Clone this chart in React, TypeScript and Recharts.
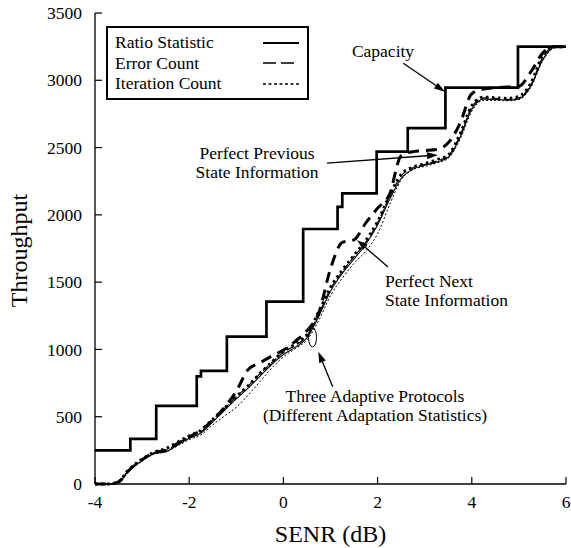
import React from "react"
import { LineChart, Line, XAxis, YAxis, Legend, ReferenceDot, ReferenceLine } from "recharts"

const FONT = "Liberation Serif, DejaVu Serif, Times, serif"
const TICK_FONT = 17.5

const xTicks = [-4, -2, 0, 2, 4, 6]
const yTicks = [0, 500, 1000, 1500, 2000, 2500, 3000, 3500]

// capacity staircase (level starts at each SENR value)
const capacitySnr = [-4, -3.25, -2.7, -1.84, -1.75, -1.2, -0.36, 0.42, 1.15, 1.25, 1.98, 2.64, 3.44, 4.98, 6]
const capacityThroughput = [250, 335, 580, 800, 840, 1095, 1355, 1895, 2060, 2160, 2470, 2645, 2945, 3250, 3250]

// shared SENR grid for the protocol curves
const snrGrid = [-4, -3.7, -3.5, -3.3, -3, -2.75, -2.5, -2.25, -2, -1.75, -1.5, -1.25, -1, -0.75, -0.5, -0.25, 0, 0.25, 0.5, 0.75, 1, 1.25, 1.5, 1.75, 2, 2.25, 2.5, 2.75, 3, 3.25, 3.5, 3.75, 4, 4.25, 4.5, 4.75, 5, 5.25, 5.5, 5.75, 6]
const ratioStatistic = [0, 0, 12, 90, 175, 225, 240, 290, 340, 378, 462, 548, 632, 712, 800, 888, 962, 1015, 1085, 1245, 1432, 1565, 1672, 1782, 1925, 2110, 2270, 2340, 2368, 2392, 2428, 2575, 2785, 2860, 2858, 2852, 2862, 2955, 3150, 3245, 3250]
const errorCount = [0, 0, 18, 98, 182, 232, 250, 300, 352, 388, 478, 562, 648, 728, 818, 902, 978, 1030, 1100, 1262, 1450, 1578, 1690, 1798, 1940, 2130, 2290, 2350, 2375, 2400, 2440, 2590, 2800, 2870, 2865, 2858, 2870, 2965, 3165, 3250, 3250]
const iterationCount = [0, 0, 10, 88, 170, 222, 238, 282, 330, 365, 440, 505, 570, 660, 760, 860, 945, 1005, 1070, 1215, 1400, 1530, 1640, 1730, 1860, 2070, 2260, 2335, 2360, 2385, 2420, 2560, 2770, 2850, 2850, 2848, 2858, 2945, 3140, 3240, 3250]
const perfectNext = [0, 0, 15, 95, 180, 232, 250, 300, 350, 400, 475, 570, 690, 850, 900, 950, 995, 1060, 1140, 1270, 1600, 1795, 1815, 1940, 2050, 2150, 2440, 2470, 2478, 2485, 2535, 2680, 2900, 2935, 2945, 2950, 2955, 3060, 3200, 3250, 3250]
const perfectPrevious = [0, 0, 18, 100, 185, 235, 262, 310, 358, 400, 480, 565, 650, 730, 820, 905, 985, 1040, 1110, 1280, 1460, 1590, 1700, 1810, 1950, 2140, 2300, 2355, 2380, 2410, 2445, 2600, 2810, 2875, 2870, 2865, 2880, 2975, 3180, 3250, 3250]

const legendNames = ["Ratio Statistic", "Error Count", "Iteration Count"]
const legendDashes = [undefined, "13 5", "3 2.5"]
const legendWidths = [2, 1.5, 1.3]

// annotation text anchors, in data units
const notes = [
  { x: 2.115, y: 3173, anchor: "middle", lines: ["Capacity"] },
  { x: -0.56, y: 2415, anchor: "middle", lines: ["Perfect Previous", "State Information"] },
  { x: 2.157, y: 1464, anchor: "start", lines: ["Perfect Next", "State Information"] },
  { x: 1.945, y: 609, anchor: "middle", lines: ["Three Adaptive Protocols", "(Different Adaptation Statistics)"] },
]
const arrows = [
  { from: [2.546, 3126], to: [3.431, 2915] },
  { from: [0.926, 2385], to: [3.282, 2445] },
  { from: [2.22, 1612], to: [1.563, 1813] },
  { from: [1.047, 723], to: [0.741, 983] },
]

const toPoints = (xs: number[], ys: number[]) => xs.map((x, i) => ({ x, y: ys[i] }))

const axisStyle = { stroke: "#000", strokeWidth: 1.3 }

const BottomTick = (p: any) => (
  <g>
    <text x={p.x} y={p.y} dy="0.71em" textAnchor="middle" fontFamily={FONT} fontSize={TICK_FONT} fill="#000">
      {p.payload.value}
    </text>
    <line x1={p.x} x2={p.x} y1={p.y - 12} y2={p.y - 19} stroke="#000" strokeWidth={1.2} />
  </g>
)
const TopTick = (p: any) => <line x1={p.x} x2={p.x} y1={p.y} y2={p.y + 7} stroke="#000" strokeWidth={1.2} />
const LeftTick = (p: any) => (
  <g>
    <text x={p.x} y={p.y} dy="0.355em" textAnchor="end" fontFamily={FONT} fontSize={TICK_FONT} fill="#000">
      {p.payload.value}
    </text>
    <line x1={p.x + 13} x2={p.x + 20} y1={p.y} y2={p.y} stroke="#000" strokeWidth={1.2} />
  </g>
)
const RightTick = (p: any) => <line x1={p.x} x2={p.x - 7} y1={p.y} y2={p.y} stroke="#000" strokeWidth={1.2} />

const XTitle = (p: any) => (
  <text x={p.viewBox.x + p.viewBox.width / 2} y={p.viewBox.y + 58} textAnchor="middle" fontFamily={FONT} fontSize={24} fill="#000">
    SENR (dB)
  </text>
)
const YTitle = (p: any) => {
  const cx = p.viewBox.x + 27
  const cy = p.viewBox.y + p.viewBox.height / 2 + 2
  return (
    <text x={cx} y={cy} transform={`rotate(-90 ${cx} ${cy})`} textAnchor="middle" fontFamily={FONT} fontSize={24} fill="#000">
      Throughput
    </text>
  )
}

const ArrowShape = (p: any) => {
  const { x1, y1, x2, y2 } = p
  const a = Math.atan2(y2 - y1, x2 - x1)
  const L = 11
  const W = 3.5
  const bx = x2 - L * Math.cos(a)
  const by = y2 - L * Math.sin(a)
  const pts = `${x2},${y2} ${bx + W * Math.sin(a)},${by - W * Math.cos(a)} ${bx - W * Math.sin(a)},${by + W * Math.cos(a)}`
  return (
    <g>
      <line x1={x1} y1={y1} x2={bx} y2={by} stroke="#000" strokeWidth={1.3} />
      <polygon points={pts} fill="#000" />
    </g>
  )
}

const LegendBox = () => (
  <div
    style={{
      width: 203,
      height: 74,
      boxSizing: "border-box",
      border: "2px solid #000",
      background: "#fff",
      padding: "4.5px 0 0 7px",
      fontFamily: FONT,
      fontSize: TICK_FONT,
      color: "#000",
    }}
  >
    {legendNames.map((name, i) => (
      <div key={name} style={{ display: "flex", alignItems: "center", height: 20.5 }}>
        <span style={{ width: 148, whiteSpace: "nowrap" }}>{name}</span>
        <svg width={36} height={6}>
          <line x1={0} x2={36} y1={3} y2={3} stroke="#000" strokeWidth={legendWidths[i]} strokeDasharray={legendDashes[i]} />
        </svg>
      </div>
    ))}
  </div>
)

export default function App() {
  return (
    <div style={{ position: "absolute", left: 0, top: 0, width: 571, height: 548, background: "#fff", fontFamily: FONT }}>
      <LineChart width={571} height={548} margin={{ top: 13, right: 5, bottom: 0, left: 0 }}>
        <XAxis
          type="number"
          dataKey="x"
          domain={[-4, 6]}
          ticks={xTicks}
          height={64}
          tickSize={0}
          tickMargin={12}
          tickLine={false}
          tick={BottomTick}
          axisLine={axisStyle}
          label={{ content: XTitle }}
        />
        <XAxis
          xAxisId="top"
          orientation="top"
          type="number"
          dataKey="x"
          domain={[-4, 6]}
          ticks={xTicks}
          height={0}
          tickSize={0}
          tickMargin={0}
          tickLine={false}
          tick={TopTick}
          axisLine={axisStyle}
        />
        <YAxis
          type="number"
          domain={[0, 3500]}
          ticks={yTicks}
          width={95}
          tickSize={0}
          tickMargin={13}
          tickLine={false}
          tick={LeftTick}
          axisLine={axisStyle}
          label={{ content: YTitle }}
        />
        <YAxis
          yAxisId="right"
          orientation="right"
          type="number"
          domain={[0, 3500]}
          ticks={yTicks}
          width={0}
          tickSize={0}
          tickMargin={0}
          tickLine={false}
          tick={RightTick}
          axisLine={axisStyle}
        />
        <Legend
          layout="vertical"
          align="center"
          verticalAlign="middle"
          content={LegendBox}
          wrapperStyle={{ left: 106, top: 26, width: 203, height: 74 }}
        />
        <Line data={toPoints(capacitySnr, capacityThroughput)} dataKey="y" type="stepAfter" stroke="#000" strokeWidth={2.7} dot={false} activeDot={false} isAnimationActive={false} />
        <Line data={toPoints(snrGrid, perfectNext)} dataKey="y" type="monotone" stroke="#000" strokeWidth={3} strokeDasharray="11 7" dot={false} activeDot={false} isAnimationActive={false} />
        <Line data={toPoints(snrGrid, perfectPrevious)} dataKey="y" type="monotone" stroke="#000" strokeWidth={3} strokeDasharray="2.5 3.5" dot={false} activeDot={false} isAnimationActive={false} />
        <Line data={toPoints(snrGrid, ratioStatistic)} dataKey="y" type="monotone" stroke="#000" strokeWidth={1.1} dot={false} activeDot={false} isAnimationActive={false} />
        <Line data={toPoints(snrGrid, errorCount)} dataKey="y" type="monotone" stroke="#000" strokeWidth={1.2} strokeDasharray="7 4" dot={false} activeDot={false} isAnimationActive={false} />
        <Line data={toPoints(snrGrid, iterationCount)} dataKey="y" type="monotone" stroke="#000" strokeWidth={1} strokeDasharray="2 2" dot={false} activeDot={false} isAnimationActive={false} />
        <ReferenceDot
          x={0.618}
          y={1089}
          r={0}
          shape={(p: any) => <ellipse cx={p.cx} cy={p.cy} rx={4} ry={9.5} fill="none" stroke="#000" strokeWidth={1} />}
        />
        {arrows.map((a, i) => (
          <ReferenceLine
            key={"arrow" + i}
            segment={[{ x: a.from[0], y: a.from[1] }, { x: a.to[0], y: a.to[1] }]}
            shape={ArrowShape}
          />
        ))}
        {notes.map((n, i) => (
          <ReferenceDot
            key={"note" + i}
            x={n.x}
            y={n.y}
            r={0}
            shape={(p: any) => (
              <text x={p.cx} y={p.cy} textAnchor={n.anchor} fontFamily={FONT} fontSize={TICK_FONT} fill="#000">
                {n.lines.map((line, j) => (
                  <tspan key={j} x={p.cx} dy={j === 0 ? 0 : 19}>
                    {line}
                  </tspan>
                ))}
              </text>
            )}
          />
        ))}
      </LineChart>
    </div>
  )
}
